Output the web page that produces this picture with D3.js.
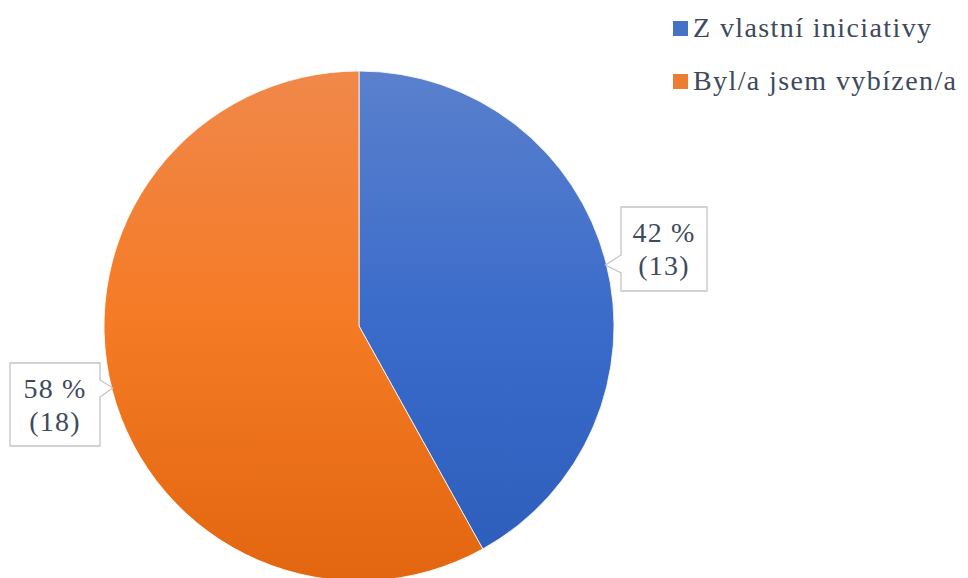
<!DOCTYPE html>
<html>
<head>
<meta charset="utf-8">
<script src="https://cdn.jsdelivr.net/npm/d3@7"></script>
<style>
  body { margin: 0; background: #fff; }
  svg { display: block; }
</style>
</head>
<body>
<svg id="chart" width="968" height="578"></svg>
<script>
// Data.
const categories = ['Z vlastní iniciativy', 'Byl/a jsem vybízen/a'];
const counts = [13, 18];
const percentLabels = ['42 %', '58 %'];

// gradient stops: top, middle, bottom
const sliceStops = [
  ['#5a80cd', '#3a6bca', '#2c5dbb'],
  ['#f0884a', '#f57a24', '#e26610']
];
const legendColors = ['#4472c4', '#ed7d31'];
const textColor = '#3e4a5c';
const fontFamily = '"Liberation Serif", Tinos, "Times New Roman", Times, "DejaVu Serif", serif';

const cx = 359, cy = 326, radius = 255;

const svg = d3.select('#chart');
const defs = svg.append('defs');

// Vertical gradients across the pie.
sliceStops.forEach(function (stops, i) {
  const g = defs.append('linearGradient')
    .attr('id', 'sliceGrad' + i)
    .attr('gradientUnits', 'userSpaceOnUse')
    .attr('x1', 0).attr('x2', 0)
    .attr('y1', -radius).attr('y2', radius);
  stops.forEach(function (s, j) {
    g.append('stop').attr('offset', j / (stops.length - 1)).attr('stop-color', s);
  });
});

const pie = d3.pie().sort(null).value(d => d);
const arcs = pie(counts);
const arc = d3.arc().innerRadius(0).outerRadius(radius);

const gPie = svg.append('g').attr('transform', 'translate(' + cx + ',' + cy + ')');
gPie.selectAll('path.slice')
  .data(arcs)
  .join('path')
  .attr('class', 'slice')
  .attr('d', arc)
  .attr('fill', (d, i) => 'url(#sliceGrad' + i + ')')
  .attr('stroke', '#fff')
  .attr('stroke-width', 0.8);

// Callout labels: box + pointer towards the slice edge.
// box: [x, y, w, h] relative to pie centre; side: where the pointer sits.
const callouts = [
  { box: [262, -119, 86, 84], side: 'left' },
  { box: [-349, 37, 90, 83], side: 'right' }
];

const lineH = 33;
arcs.forEach(function (d, i) {
  const c = callouts[i];
  const [bx, by, bw, bh] = c.box;
  let p;
  if (c.side === 'left') {
    const ty = by + 58;
    const tx = Math.sqrt(radius * radius - ty * ty) - 1;
    p = [[bx, by], [bx + bw, by], [bx + bw, by + bh], [bx, by + bh],
         [bx, by + 66], [tx, ty], [bx, by + 48], [bx, by]];
  } else {
    const ty = by + 25;
    const tx = -Math.sqrt(radius * radius - ty * ty) + 1;
    p = [[bx, by], [bx + bw, by], [bx + bw, by + 17], [tx, ty],
         [bx + bw, by + 34], [bx + bw, by + bh], [bx, by + bh], [bx, by]];
  }
  gPie.append('path')
    .attr('d', d3.line()(p) + 'Z')
    .attr('fill', '#fff')
    .attr('stroke', '#c4c4c4')
    .attr('stroke-width', 1.3);

  const t = gPie.append('text')
    .attr('text-anchor', 'middle')
    .style('font-family', fontFamily)
    .attr('font-size', 28)
    .attr('letter-spacing', 1.2)
    .attr('fill', textColor);
  t.append('tspan').attr('x', bx + bw / 2).attr('y', by + 35).text(percentLabels[i]);
  t.append('tspan').attr('x', bx + bw / 2).attr('y', by + 35 + lineH).text('(' + d.data + ')');
});

// Legend.
const legend = svg.append('g').attr('transform', 'translate(673,0)');
const rows = legend.selectAll('g.row')
  .data(categories)
  .join('g')
  .attr('class', 'row')
  .attr('transform', (d, i) => 'translate(0,' + (21 + i * 53) + ')');
rows.append('rect')
  .attr('width', 15).attr('height', 15)
  .attr('fill', (d, i) => legendColors[i]);
rows.append('text')
  .attr('x', 20).attr('y', 16)
  .style('font-family', fontFamily)
  .attr('font-size', 28)
  .attr('letter-spacing', 1.4)
  .attr('fill', textColor)
  .text(d => d);
</script>
</body>
</html>
